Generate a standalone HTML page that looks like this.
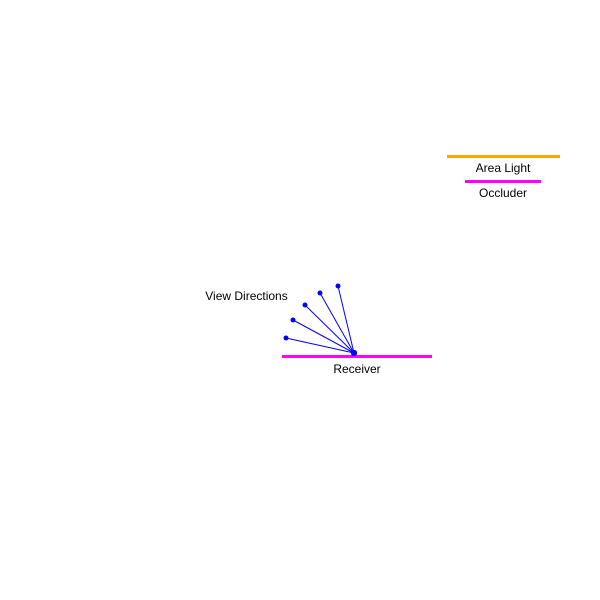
<!DOCTYPE html>
<html><head><meta charset="utf-8"><style>
html,body{margin:0;padding:0;background:#fff;}
svg{display:block;}
text{font-family:"Liberation Sans",sans-serif;font-size:12px;fill:#000;}
</style></head><body>
<svg id="c" width="600" height="600" viewBox="0 0 600 600">
<line x1="447" y1="156.5" x2="560" y2="156.5" stroke="#ffa500" stroke-width="3"/>
<text x="503" y="172" text-anchor="middle">Area Light</text>
<line x1="465" y1="181.5" x2="541" y2="181.5" stroke="#ff00ff" stroke-width="3"/>
<text x="503" y="197" text-anchor="middle">Occluder</text>
<line x1="282" y1="356.5" x2="432" y2="356.5" stroke="#ff00ff" stroke-width="3"/>
<text x="357" y="373" text-anchor="middle">Receiver</text>
<text x="246.5" y="300" text-anchor="middle">View Directions</text>
<g id="views"></g>
</svg>
<script>
const endX=[286,293,305,320,338];
const endY=[338,320,305,293,286];
const originX=354, originY=353;
const g=document.getElementById('views');
const ns='http://www.w3.org/2000/svg';
for(let i=0;i<endX.length;i++){
  const l=document.createElementNS(ns,'line');
  l.setAttribute('x1',originX);l.setAttribute('y1',originY);
  l.setAttribute('x2',endX[i]);l.setAttribute('y2',endY[i]);
  l.setAttribute('stroke','#0000ff');l.setAttribute('stroke-width','1');
  
  
  g.appendChild(l);
  const c=document.createElementNS(ns,'circle');
  c.setAttribute('cx',endX[i]);c.setAttribute('cy',endY[i]);c.setAttribute('r','2.5');
  c.setAttribute('fill','#0000ff');
  
  
  g.appendChild(c);
  const o=document.createElementNS(ns,'circle');
  o.setAttribute('cx',originX);o.setAttribute('cy',originY);o.setAttribute('r','3');
  o.setAttribute('fill','#0000ff');
  
  
  g.appendChild(o);
}
</script>
</body></html>
